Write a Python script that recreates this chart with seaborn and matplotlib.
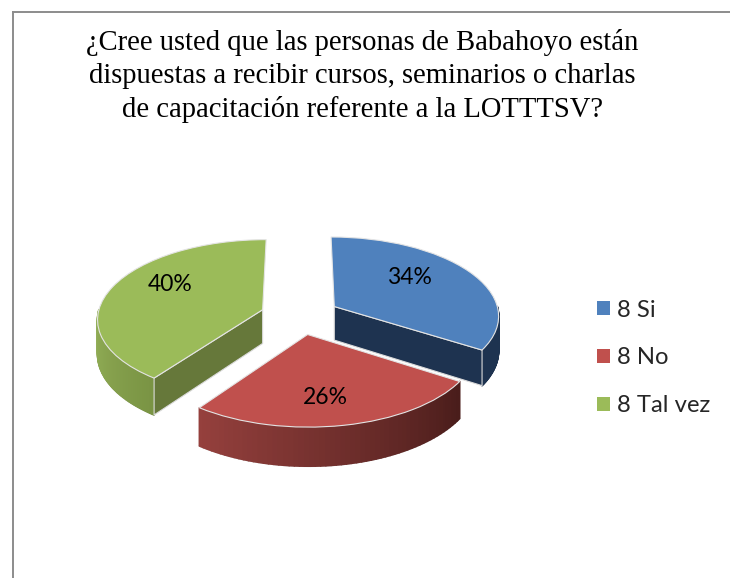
import numpy as np
import pandas as pd
import matplotlib
matplotlib.use("Agg")
import matplotlib.pyplot as plt
from matplotlib.collections import PolyCollection
from matplotlib.colors import LinearSegmentedColormap
from matplotlib.transforms import Transform
import seaborn as sns

# ---- data ----
categories = ["8 Si", "8 No", "8 Tal vez"]
percentages = [34, 26, 40]
title_text = ("¿Cree usted que las personas de Babahoyo están\n"
              "dispuestas a recibir cursos, seminarios o charlas\n"
              "de capacitación referente a la LOTTTSV?")

# ---- styles ----
top_colors = ["#4F81BD", "#C0504D", "#9BBB59"]
wall_ramps = [["#1E3350", "#1E3350"], ["#95403D", "#4A1D1B"], ["#96B259", "#7A9444"]]
cut_colors = ["#1E3350", "#5A2422", "#66783A"]
label_nudges = [(-0.035, 0.10), (-0.02, -0.11), (-0.02, 0.15)]

sns.set_theme(style="white")
plt.rcParams["font.family"] = ["Lato", "DejaVu Sans"]


class Tilt(Transform):
    """Perspective view of the pie's plane, into the pixel grid of the axes."""
    input_dims = output_dims = 2
    is_affine = False
    has_inverse = False

    def __init__(self, drop=0.0):
        super().__init__()
        self.drop = drop

    def transform_non_affine(self, values):
        v = np.asarray(values, dtype=float)
        w = 1 + 0.105 * v[:, 1]
        x = 300 + 165 * v[:, 0] / w
        y = 315.5 - 78.6 * v[:, 1] / w + self.drop / w
        return np.column_stack([x, y])


top, low = Tilt(), Tilt(34.0)

fig = plt.figure(figsize=(7.30, 5.78), dpi=100)
ax = fig.add_axes([13 / 730, 0, 717 / 730, 566 / 578])

df = pd.DataFrame({"categoria": categories, "pct": percentages})
wedges, texts, pct_texts = ax.pie(
    df["pct"], colors=top_colors, startangle=90, counterclock=False,
    explode=[0.24] * len(df), autopct="%1.0f%%", pctdistance=0.6,
    wedgeprops=dict(edgecolor="#E4E4E4", linewidth=0.8, zorder=3),
    textprops=dict(fontsize=16.5, color="black", zorder=5),
)

for wedge, text, ramp, cut, nudge in zip(wedges, pct_texts, wall_ramps, cut_colors, label_nudges):
    c = np.array(wedge.center)
    t1, t2 = wedge.theta1, wedge.theta2

    # rounded outer wall: the part of the arc turned towards the viewer
    lo, hi = max(t1, -180.0), min(t2, 0.0)
    ang = np.radians(np.linspace(lo, hi, 60))
    rim = c + np.column_stack([np.cos(ang), np.sin(ang)])
    upper, lower = top.transform(rim), low.transform(rim)
    strips = [[upper[i], upper[i + 1], lower[i + 1], lower[i]] for i in range(len(rim) - 1)]
    cmap = LinearSegmentedColormap.from_list("wall", ramp)
    shades = cmap(np.linspace(0, 1, len(strips)))
    ax.add_collection(PolyCollection(strips, facecolors=shades, edgecolors=shades,
                                     linewidths=1.2, zorder=2))
    ax.plot(lower[:, 0], lower[:, 1], color="#C4C4C4", lw=1.3, zorder=1.5)

    # flat cut wall, where the slice's straight edge faces the viewer
    for theta, side in ((t1, 1), (t2, -1)):
        if side * np.cos(np.radians(theta)) > 1e-6:
            edge = c + np.array([[0, 0], [np.cos(np.radians(theta)), np.sin(np.radians(theta))]])
            u, d = top.transform(edge), low.transform(edge)
            quad = np.vstack([u, d[::-1]])
            ax.fill(quad[:, 0], quad[:, 1], facecolor=cut, edgecolor="#DADADA",
                    linewidth=0.8, zorder=2.2)

    wedge.set_transform(top + ax.transData)
    x, y = text.get_position()
    text.set_position((x + nudge[0], y + nudge[1]))
    text.set_transform(top + ax.transData)

ax.set_xlim(13, 730)
ax.set_ylim(578, 12)
ax.set_aspect("auto")
ax.set_frame_on(True)
sns.despine(ax=ax, top=False, left=False, right=True, bottom=True)
for name in ("top", "left"):
    ax.spines[name].set_color("#8C8C8C")
    ax.spines[name].set_linewidth(1.4)

ax.text(362, 76, title_text, ha="center", va="center", fontsize=20.6,
        family="Liberation Serif", color="black", linespacing=1.35)

handles = [plt.Rectangle((0, 0), 1, 1, facecolor=col, edgecolor="none") for col in top_colors]
ax.legend(handles, df["categoria"], loc="center left",
          bbox_to_anchor=(0.8145, 0.389), frameon=False, fontsize=17.2,
          handlelength=0.54, handleheight=0.54, handletextpad=0.3, labelspacing=1.12,
          borderpad=0, borderaxespad=0)

fig.savefig("out.png", dpi=100, facecolor="white")
